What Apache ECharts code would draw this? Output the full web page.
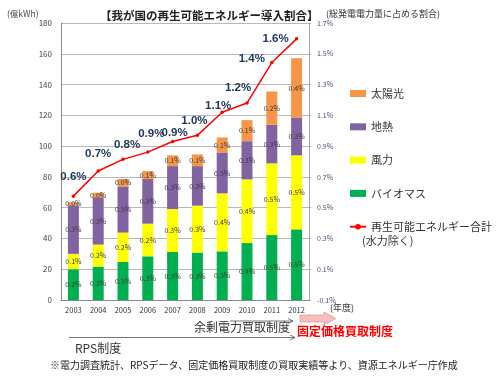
<!DOCTYPE html>
<html>
<head>
<meta charset="utf-8">
<script src="https://cdn.jsdelivr.net/npm/echarts@6/dist/echarts.min.js"></script>
<style>html,body{margin:0;padding:0;background:#fff}#c{width:500px;height:379px}</style>
</head>
<body>
<div id="c"></div>
<script>
const years = ['2003','2004','2005','2006','2007','2008','2009','2010','2011','2012'];
// 億kWh (stacked segments)
const biomass = [20, 21.6, 24.7, 28.4, 31.2, 30.8, 31.6, 37, 42.2, 45.9];
const wind    = [10, 14.4, 19.1, 21.2, 27.9, 30.5, 37.7, 41.4, 46.6, 48.1];
const geo     = [31.5, 30.7, 30, 29, 27.9, 25.7, 26.6, 24.8, 25.1, 24.6];
const solar   = [2, 3, 4.8, 5.2, 7, 7.6, 9.7, 13.7, 21.6, 38.5];
// share of total generation (labels inside bars)
const shareBio   = ['0.2%','0.2%','0.3%','0.3%','0.3%','0.3%','0.3%','0.4%','0.5%','0.5%'];
const shareWind  = ['0.1%','0.2%','0.2%','0.2%','0.3%','0.3%','0.4%','0.4%','0.5%','0.5%'];
const shareGeo   = ['0.3%','0.3%','0.3%','0.3%','0.3%','0.3%','0.3%','0.3%','0.3%','0.3%'];
const shareSolar = ['0.0%','0.0%','0.0%','0.1%','0.1%','0.1%','0.1%','0.1%','0.2%','0.4%'];
// total renewable share (%), right axis
const totalShare = [0.575, 0.738, 0.814, 0.861, 0.93, 0.97, 1.12, 1.18, 1.443, 1.597];
const totalLabels = ['0.6%','0.7%','0.8%','0.9%','0.9%','1.0%','1.1%','1.2%','1.4%','1.6%'];
// label placement (style only)
const labelOffsets = [[0,-19],[0,-17],[4,-15],[3.5,-18],[2,-8.5],[-3,-15],[-4,-6],[-9,-15],[-20,-4],[-21,0]];

const CJK = '"Noto Sans CJK JP", "Noto Sans", sans-serif';
const chart = echarts.init(document.getElementById('c'));

function barSeries(name, data, labels, color) {
  return {
    name: name, type: 'bar', stack: 'total', data: data, barWidth: 11,
    itemStyle: { color: color },
    label: {
      show: true, position: 'inside', fontSize: 7, color: '#3a3a3a',
      fontFamily: CJK,
      formatter: p => labels[p.dataIndex]
    }
  };
}

chart.setOption({
  animation: false,
  textStyle: { fontFamily: CJK },
  title: {
    text: '【我が国の再生可能エネルギー導入割合】',
    left: 95, top: 5,
    textStyle: { fontSize: 11.5, fontWeight: 'bold', color: '#222', fontFamily: CJK }
  },
  grid: { left: 61, right: 191, top: 23, bottom: 79 },
  legend: {
    orient: 'vertical', left: 344, top: 83,
    itemWidth: 16, itemHeight: 7, itemGap: 22.3,
    textStyle: { fontSize: 11, color: '#333', fontFamily: CJK },
    data: [
      { name: '太陽光', icon: 'rect' },
      { name: '地熱', icon: 'rect' },
      { name: '風力', icon: 'rect' },
      { name: 'バイオマス', icon: 'rect' },
      { name: '再生可能エネルギー合計' }
    ]
  },
  xAxis: {
    type: 'category', data: years,
    axisLine: { lineStyle: { color: '#888' } },
    axisTick: { lineStyle: { color: '#888' } },
    axisLabel: { fontSize: 7.5, color: '#333', margin: 6 }
  },
  yAxis: [
    {
      type: 'value', min: 0, max: 180, interval: 20,
      axisLine: { show: true, lineStyle: { color: '#888' } },
      axisTick: { show: false },
      axisLabel: { fontSize: 8, color: '#444', margin: 9 },
      splitLine: { lineStyle: { color: '#b8b8b8' } }
    },
    {
      type: 'value', min: -0.1, max: 1.7, interval: 0.2,
      axisLine: { show: true, lineStyle: { color: '#aaa' } },
      axisTick: { show: true, length: 2, lineStyle: { color: '#aaa' } },
      axisLabel: { fontSize: 7, color: '#5a4a70', margin: 8,
        formatter: v => v.toFixed(1) + '%' },
      splitLine: { show: false }
    }
  ],
  series: [
    barSeries('バイオマス', biomass, shareBio, '#00B050'),
    barSeries('風力', wind, shareWind, '#FFFF00'),
    barSeries('地熱', geo, shareGeo, '#8064A2'),
    barSeries('太陽光', solar, shareSolar, '#F79646'),
    {
      name: '再生可能エネルギー合計', type: 'line', yAxisIndex: 1,
      data: totalShare.map((v, i) => ({ value: v, label: { offset: labelOffsets[i] } })),
      symbol: 'circle', symbolSize: 3.5,
      lineStyle: { color: '#FF0000', width: 1.5 },
      itemStyle: { color: '#FF0000' },
      label: {
        show: true, position: 'inside',
        fontSize: 11.5, fontWeight: 'bold', color: '#1F3864',
        fontFamily: '"Liberation Sans", Arial, sans-serif',
        formatter: p => totalLabels[p.dataIndex]
      },
      z: 5
    }
  ],
  graphic: [
    { type: 'text', left: 7, top: 10, style: { text: '(億kWh)', fill: '#444', font: '8.5px ' + CJK } },
    { type: 'text', left: 326, top: 9, style: { text: '(総発電電力量に占める割合)', fill: '#333', font: '9px ' + CJK } },
    { type: 'text', left: 330, top: 303, style: { text: '(年度)', fill: '#333', font: '9px ' + CJK } },
    { type: 'polygon', shape: { points: [[300,315],[324,315],[324,312],[336,318.5],[324,325],[324,322],[300,322]] },
      style: { fill: '#F8BDBD', stroke: '#E59A9A', lineWidth: 0.8 } },
    { type: 'polyline', shape: { points: [[230,321],[293,321]] }, style: { stroke: '#555', lineWidth: 0.8, fill: null } },
    { type: 'polyline', shape: { points: [[288,318.5],[293,321],[288,323.5]] }, style: { stroke: '#555', lineWidth: 0.8, fill: null } },
    { type: 'polyline', shape: { points: [[69,337.5],[295,337.5]] }, style: { stroke: '#555', lineWidth: 0.8, fill: null } },
    { type: 'polyline', shape: { points: [[290,335],[295,337.5],[290,340]] }, style: { stroke: '#555', lineWidth: 0.8, fill: null } },
    { type: 'text', left: 194, top: 321, style: { text: '余剰電力買取制度', fill: '#333', font: '12px ' + CJK } },
    { type: 'text', left: 297, top: 325, style: { text: '固定価格買取制度', fill: '#FF0000', font: 'bold 12px ' + CJK } },
    { type: 'text', left: 75, top: 342, style: { text: 'RPS制度', fill: '#333', font: '12px ' + CJK } },
    { type: 'text', left: 50, top: 360, style: { text: '※電力調査統計、RPSデータ、固定価格買取制度の買取実績等より、資源エネルギー庁作成', fill: '#222', font: '10px ' + CJK } },
    { type: 'text', left: 362, top: 235, style: { text: '(水力除く)', fill: '#333', font: '11px ' + CJK } }
  ]
});
</script>
</body>
</html>
